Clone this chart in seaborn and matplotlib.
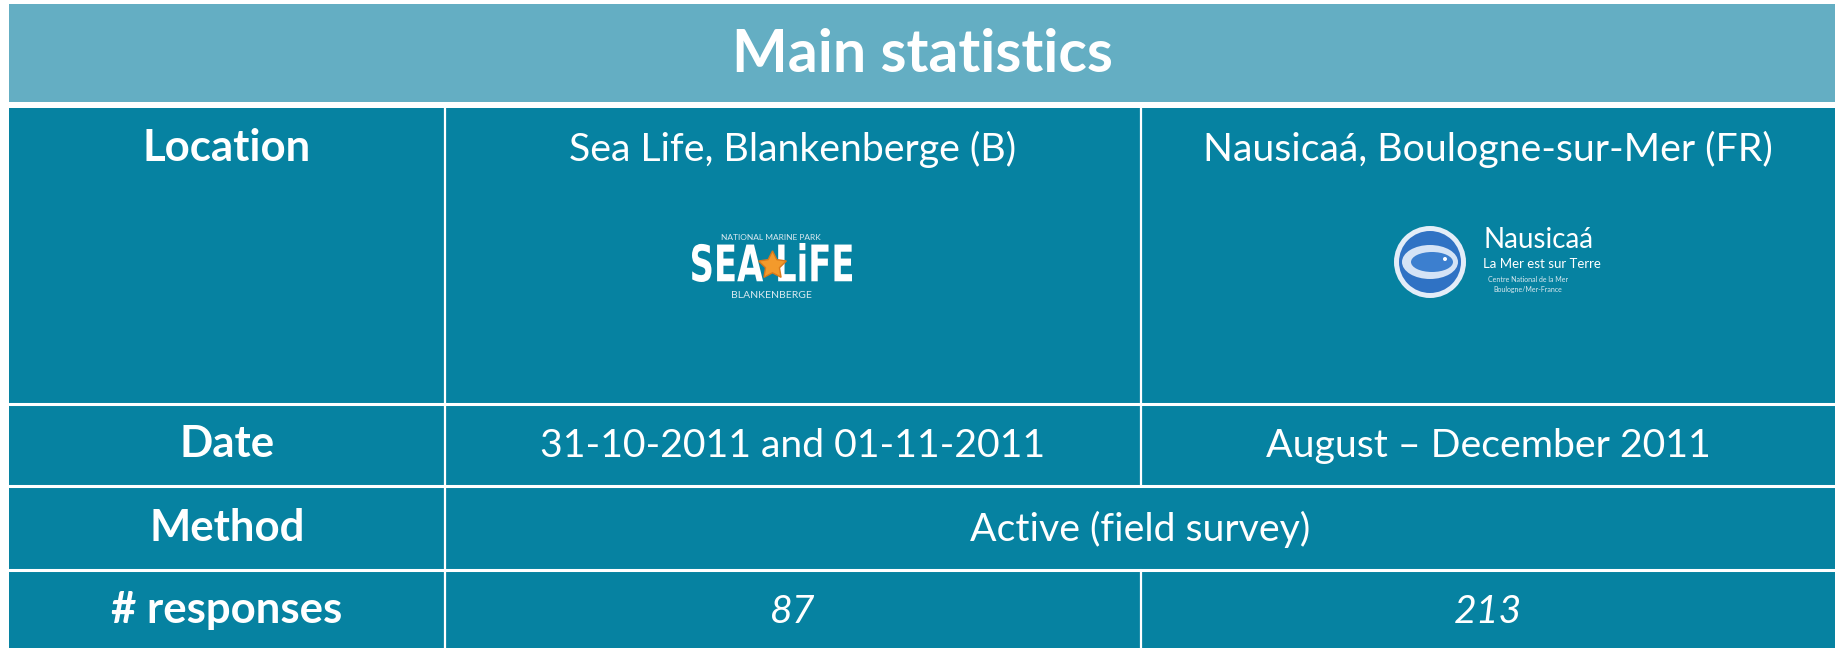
import matplotlib.pyplot as plt
import matplotlib.patches as mpatches
from matplotlib.textpath import TextPath
from matplotlib.font_manager import FontProperties
from matplotlib.transforms import Affine2D
import seaborn as sns

# table content
title = "Main statistics"
row_labels = ["Location", "Date", "Method", "# responses"]
sites = ["Sea Life, Blankenberge (B)", "Nausicaá, Boulogne-sur-Mer (FR)"]
dates = ["31-10-2011 and 01-11-2011", "August – December 2011"]
method = "Active (field survey)"
responses = [87, 213]

# layout in pixels (figure is 1835 x 648 at dpi 100)
W, H = 1835, 648
left = 9
col_edges = [left, 445, 1141, W]
head_top, head_bot = 4, 102
row_edges = [108, 404, 486, 570, H]

head_color = "#64aec3"
body_color = "#0682a1"

sns.set_theme(style="white")
plt.rcParams["font.family"] = ["Lato", "DejaVu Sans"]

fig = plt.figure(figsize=(W / 100, H / 100), dpi=100)
ax = fig.add_axes([0, 0, 1, 1])
ax.set_xlim(0, W)
ax.set_ylim(H, 0)
ax.axis("off")

ax.add_patch(mpatches.Rectangle((left, head_top), W - left, head_bot - head_top,
                                color=head_color, lw=0))
ax.add_patch(mpatches.Rectangle((left, row_edges[0]), W - left, H - row_edges[0],
                                color=body_color, lw=0))

# grid lines
for y in row_edges[1:-1]:
    ax.plot([left, W], [y, y], color="white", lw=2.2)
ax.plot([col_edges[1]] * 2, [row_edges[0], H], color="white", lw=1.6)
ax.plot([col_edges[2]] * 2, [row_edges[0], row_edges[2]], color="white", lw=1.6)
ax.plot([col_edges[2]] * 2, [row_edges[3], H], color="white", lw=1.6)

xc = [(col_edges[i] + col_edges[i + 1]) / 2 for i in range(3)]
xmerge = (col_edges[1] + col_edges[3]) / 2
baselines = [161, 457, 541, 623]
fs = 28.3
fs_lab = 31.5

ax.text(W / 2 + left / 2, 72, title, color="white", fontsize=42.5, weight="bold",
        ha="center", va="baseline")

for lab, yb in zip(row_labels, baselines):
    ax.text(xc[0], yb, lab, color="white", fontsize=fs_lab, weight="bold",
            ha="center", va="baseline")

for i, s in enumerate(sites):
    ax.text(xc[i + 1], baselines[0], s, color="white", fontsize=fs,
            ha="center", va="baseline")
for i, d in enumerate(dates):
    ax.text(xc[i + 1], baselines[1], d, color="white", fontsize=fs,
            ha="center", va="baseline")
ax.text(xmerge, baselines[2], method, color="white", fontsize=fs,
        ha="center", va="baseline")
for i, r in enumerate(responses):
    ax.text(xc[i + 1], baselines[3], str(r), color="white", fontsize=fs,
            style="italic", ha="center", va="baseline")

# Sea Life logo (drawn approximation)
ax.text(771, 238, "NATIONAL MARINE PARK", color="#dbe9f0", fontsize=6,
        ha="center", va="center")
tp = TextPath((0, 0), "SEA LiFE", size=100,
              prop=FontProperties(family="DejaVu Sans", weight="bold"))
bb = tp.get_extents()
logo_tr = (Affine2D().translate(-bb.x0, -bb.y0)
           .scale(160 / bb.width, -39 / bb.height)
           .translate(692, 282) + ax.transData)
ax.add_patch(mpatches.PathPatch(tp, transform=logo_tr, fc="white", lw=0))
ax.plot([772], [265], marker=(5, 1), markersize=21, color="#f39a2c", mec="#d9791a")
ax.text(771, 296, "BLANKENBERGE", color="#dbe9f0", fontsize=7.5,
        ha="center", va="center")

# Nausicaa logo (drawn approximation)
cx, cy = 1430, 262
ax.add_patch(mpatches.Circle((cx, cy), 36, color="#e3edf8", lw=0))
ax.add_patch(mpatches.Circle((cx, cy), 31, color="#2f72c4", lw=0))
ax.add_patch(mpatches.Ellipse((cx, cy), 56, 34, color="#d4e3f6", lw=0))
ax.add_patch(mpatches.Ellipse((cx + 2, cy), 42, 20, color="#3c7fcf", lw=0))
ax.add_patch(mpatches.Circle((cx + 15, cy - 3), 2, color="white", lw=0))
ax.text(1483, 248, "Nausicaá", color="white", fontsize=20, ha="left",
        va="baseline")
ax.text(1483, 268, "La Mer est sur Terre", color="white", fontsize=9.5,
        ha="left", va="baseline")
ax.text(1528, 282, "Centre National de la Mer", color="#dbe9f0", fontsize=5,
        ha="center", va="baseline")
ax.text(1528, 292, "Boulogne/Mer-France", color="#dbe9f0", fontsize=5,
        ha="center", va="baseline")

fig.savefig("out.png", dpi=100)
